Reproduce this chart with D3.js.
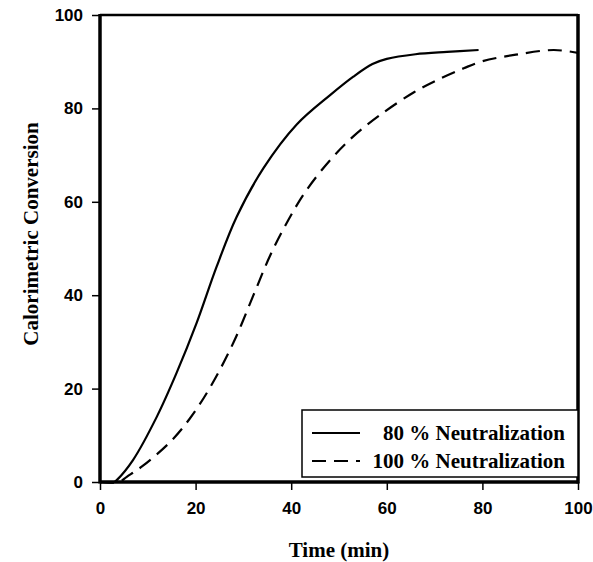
<!DOCTYPE html>
<html><head><meta charset="utf-8">
<script src="https://cdn.jsdelivr.net/npm/d3@7"></script>
<style>body{margin:0;background:#fff}</style>
</head><body>
<svg id="c" width="593" height="562"></svg>
<script>
const xTicks = [0, 20, 40, 60, 80, 100];
const yTicks = [0, 20, 40, 60, 80, 100];
const seriesNames = ["80 % Neutralization", "100 % Neutralization"];
const solidT = [0, 3, 3.5, 6.9, 11.9, 16, 20.2, 24.4, 28.6, 34.2, 41.2, 48.2, 53, 57, 60, 66, 72.6, 79.2];
const solidV = [0, 0, 0.4, 4.7, 14, 23.3, 34, 46.1, 56.8, 67.2, 76.6, 82.9, 86.8, 89.5, 90.6, 91.6, 92.1, 92.5];
const dashT = [0, 4, 5.6, 9, 14.7, 18.8, 23, 27.9, 32.1, 35.6, 39.4, 43, 48.2, 53, 58.6, 65.6, 71, 76.1, 80, 87, 94.9, 100];
const dashV = [0, 0, 1.1, 3.5, 8.6, 13.6, 20.2, 29.8, 40, 48.5, 56.1, 62.2, 69, 74, 78.6, 83.4, 86.3, 88.6, 90.1, 91.5, 92.5, 91.9];

const svg = d3.select("#c");
const L = 100, R = 578, T = 15, B = 482;
const x = d3.scaleLinear().domain([0, 100]).range([L, R]);
const y = d3.scaleLinear().domain([0, 100]).range([B, T]);

// axes
const xa = svg.append("g").attr("transform", `translate(0,${B})`)
  .call(d3.axisBottom(x).tickValues(xTicks).tickSize(8).tickPadding(12).tickFormat(d3.format("d")));
const ya = svg.append("g").attr("transform", `translate(${L},0)`)
  .call(d3.axisLeft(y).tickValues(yTicks).tickSize(8).tickPadding(9).tickFormat(d3.format("d")));
[xa, ya].forEach(g => {
  g.select(".domain").remove();
  g.selectAll("line").attr("stroke", "#000").attr("stroke-width", 1.5);
  g.selectAll("text").attr("font-family", "Liberation Sans, Arial, sans-serif")
    .attr("font-weight", "bold").attr("font-size", 17).attr("fill", "#000");
});

// frame
svg.append("line").attr("x1", L).attr("x2", R).attr("y1", T).attr("y2", T).attr("stroke", "#000").attr("stroke-width", 2.5);
svg.append("line").attr("x1", L).attr("x2", L).attr("y1", T - 1).attr("y2", B + 1.5).attr("stroke", "#000").attr("stroke-width", 3.5);
svg.append("line").attr("x1", R).attr("x2", R).attr("y1", T - 1).attr("y2", B + 1.5).attr("stroke", "#000").attr("stroke-width", 3.5);
svg.append("line").attr("x1", L).attr("x2", R).attr("y1", B).attr("y2", B).attr("stroke", "#000").attr("stroke-width", 3.5);

// curves
const line = d3.line().x(d => x(d[0])).y(d => Math.min(y(d[1]), B)).curve(d3.curveCatmullRom.alpha(0.5));
const solid = solidT.map((t, i) => [t, solidV[i]]);
const dashed = dashT.map((t, i) => [t, dashV[i]]);
svg.append("path").attr("d", line(solid)).attr("fill", "none").attr("stroke", "#000").attr("stroke-width", 2.2);
svg.append("path").attr("d", line(dashed)).attr("fill", "none").attr("stroke", "#000").attr("stroke-width", 2.2)
  .attr("stroke-dasharray", "14,8");

// legend
svg.append("rect").attr("x", 302).attr("y", 410).attr("width", R - 302).attr("height", 67)
  .attr("fill", "#fff").attr("stroke", "#000").attr("stroke-width", 1.5);
const rows = [433, 461];
seriesNames.forEach((n, i) => {
  svg.append("line").attr("x1", 312).attr("x2", 360).attr("y1", rows[i]).attr("y2", rows[i])
    .attr("stroke", "#000").attr("stroke-width", 1.8).attr("stroke-dasharray", i ? "14,8" : null);
  svg.append("text").attr("x", 565).attr("y", rows[i]).attr("dy", "0.35em").attr("text-anchor", "end")
    .attr("font-family", "Liberation Serif, Times New Roman, serif").attr("font-weight", "bold")
    .attr("font-size", 21).text(n);
});

// titles
svg.append("text").attr("x", (L + R) / 2).attr("y", 557).attr("text-anchor", "middle")
  .attr("font-family", "Liberation Serif, Times New Roman, serif").attr("font-weight", "bold")
  .attr("font-size", 21).text("Time (min)");
svg.append("text").attr("transform", "translate(38,234) rotate(-90)").attr("text-anchor", "middle")
  .attr("font-family", "Liberation Serif, Times New Roman, serif").attr("font-weight", "bold")
  .attr("font-size", 21).text("Calorimetric Conversion");
</script>
</body></html>
